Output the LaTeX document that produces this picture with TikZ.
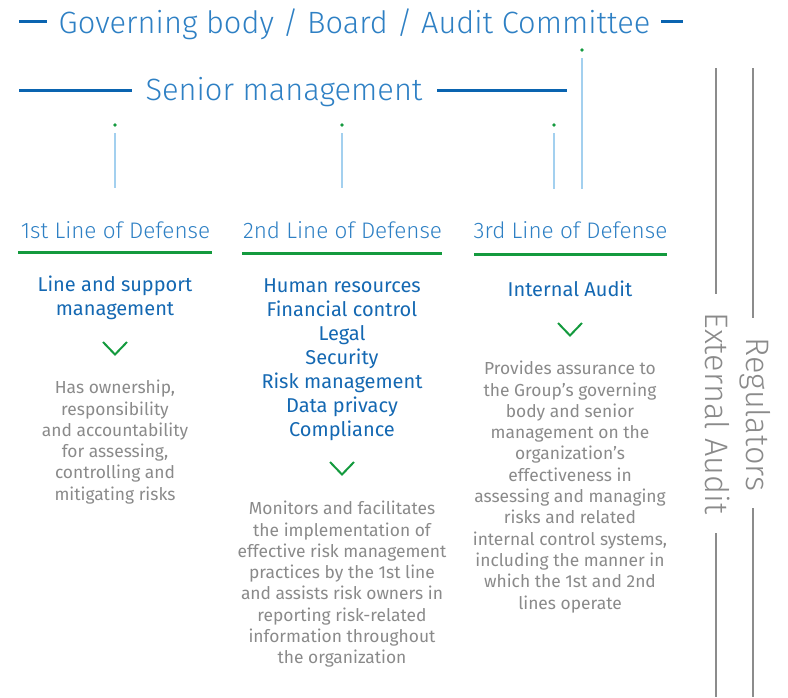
\documentclass[tikz,border=0pt]{standalone}
\usepackage{fontspec}
\setmainfont{Fira Sans}
\newfontfamily\lightfont{Fira Sans Light}
\definecolor{titleblue}{HTML}{2E80C4}
\definecolor{dashblue}{HTML}{0A64B0}
\definecolor{itemblue}{HTML}{1468B2}
\definecolor{paleblue}{HTML}{A3D0EF}
\definecolor{dgreen}{HTML}{149A3E}
\definecolor{txtgray}{HTML}{8A8A8A}
\definecolor{linegray}{HTML}{8C8C8C}
\begin{document}
\begin{tikzpicture}[x=1pt,y=-1pt,
  bigtitle/.style={font=\lightfont\fontsize{30.8}{36}\selectfont, text=titleblue, inner sep=0pt, anchor=base},
  heading/.style={font=\lightfont\fontsize{22.5}{26}\selectfont, text=titleblue, inner sep=0pt, anchor=base},
  items/.style={font=\fontsize{20}{24}\selectfont, text=itemblue, inner sep=0pt, anchor=north, align=center},
  desc/.style={font=\fontsize{17.4}{21.3}\selectfont, text=txtgray, inner sep=0pt, anchor=north, align=center},
  sidetext/.style={font=\lightfont\fontsize{32.5}{36}\selectfont, text=txtgray, inner sep=0pt, rotate=-90},
  dashline/.style={draw=dashblue, line width=2.3pt},
  feeder/.style={draw=paleblue, line width=2pt},
  rule/.style={draw=dgreen, line width=2.7pt},
  chev/.style={draw=dgreen, line width=2pt},
  sideline/.style={draw=linegray, line width=2.2pt},
  dot/.style={fill=dgreen, draw=none}
]
\useasboundingbox (0,0) rectangle (788,697);

% top titles
\node[bigtitle] (gov) at (354.5,33) {Governing body / Board / Audit Committee};
\node[bigtitle] (senior) at (284,100.5) {Senior management};
\coordinate (gdl) at (19,21.5); \coordinate (gdr) at (47,21.5);
\coordinate (gel) at (661,21.5); \coordinate (ger) at (683,21.5);
\draw[dashline] (gdl) -- (gdr);
\draw[dashline] (gel) -- (ger);
\coordinate (sl1) at (19,90.5); \coordinate (sl2) at (132,90.5);
\coordinate (sr1) at (437,90.5); \coordinate (sr2) at (567,90.5);
\draw[dashline] (sl1) -- (sl2);
\draw[dashline] (sr1) -- (sr2);

% feeder lines with dots
\foreach \n/\x/\yd/\yt/\yb in {a/115/125/133/188, b/342/125/133/188, c/554/125/133/189, d/582/50/58/189}{
  \coordinate (\n top) at (\x,\yt);
  \coordinate (\n bot) at (\x,\yb);
  \fill[dot] (\x,\yd) circle (1.9);
  \draw[feeder] (\n top) -- (\n bot);
}

% headings
\node[heading] (h1) at (115.5,238) {1st Line of Defense};
\node[heading] (h2) at (342.5,238) {2nd Line of Defense};
\node[heading] (h3) at (570.5,238) {3rd Line of Defense};
\draw[rule] (18,252.5) -- (212,252.5);
\draw[rule] (242,253.5) -- (442,253.5);
\draw[rule] (474,254.5) -- (667,254.5);

% items
\node[items] (i1) at (115,276) {Line and support\\management};
\node[items] (i2) at (342,279) {Human resources\\Financial control\\Legal\\Security\\Risk management\\Data privacy\\Compliance};
\node[items] (i3) at (570,281) {Internal Audit};

% chevrons
\draw[chev] (103,342) -- (115,354.5) -- (127,342);
\draw[chev] (330,462) -- (342,474.5) -- (354,462);
\draw[chev] (558,323) -- (570,335.5) -- (582,323);

% descriptions
\node[desc] (d1) at (115,380) {Has ownership,\\responsibility\\and accountability\\for assessing,\\controlling and\\mitigating risks};
\node[desc] (d2) at (342,501) {Monitors and facilitates\\the implementation of\\effective risk management\\practices by the 1st line\\and assists risk owners in\\reporting risk-related\\information throughout\\the organization};
\node[desc] (d3) at (570,361) {Provides assurance to\\the Group’s governing\\body and senior\\management on the\\organization’s\\effectiveness in\\assessing and managing\\risks and related\\internal control systems,\\including the manner in\\which the 1st and 2nd\\lines operate};

% side bars
\node[sidetext] (ext) at (718,413.5) {External Audit};
\node[sidetext] (reg) at (755,414.5) {Regulators};
\coordinate (e1) at (716,68); \coordinate (e2) at (716,294);
\coordinate (e3) at (716,533); \coordinate (e4) at (716,697);
\coordinate (r1) at (753,68); \coordinate (r2) at (753,318);
\coordinate (r3) at (753,508); \coordinate (r4) at (753,697);
\draw[sideline] (e1) -- (e2);
\draw[sideline] (e3) -- (e4);
\draw[sideline] (r1) -- (r2);
\draw[sideline] (r3) -- (r4);
\end{tikzpicture}
\end{document}
